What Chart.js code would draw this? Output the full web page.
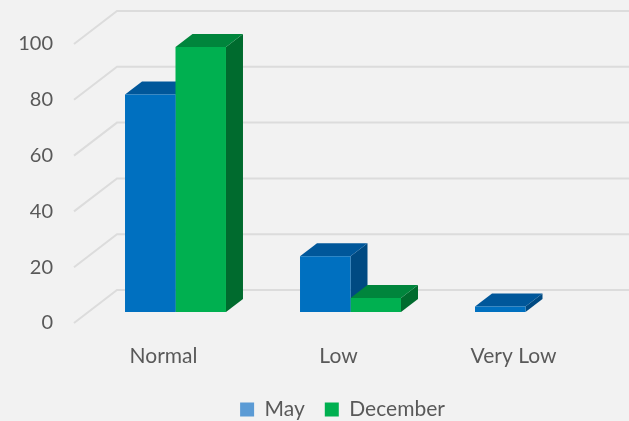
<!DOCTYPE html>
<html>
<head>
<meta charset="utf-8">
<style>
    html, body { margin: 0; padding: 0; background: #f2f2f2; overflow: hidden; }
    canvas { display: block; }
</style>
<script src="https://cdn.jsdelivr.net/npm/chart.js@4/dist/chart.umd.min.js"></script>
</head>
<body>
<canvas id="levelsChart" width="629" height="421"></canvas>
<script>
// Values
const categories = ['Normal', 'Low', 'Very Low'];
const mayValues = [78, 20, 2];
const decemberValues = [95, 5, null];

const FONT = { family: 'Lato, "Open Sans", sans-serif', size: 21 };
const TICK_FONT = { family: 'Lato, "Open Sans", sans-serif', size: 20 };
const TEXT_COLOR = '#595959';

// front, top and side colours of each series
const faceColors = [
    { front: '#0070c0', top: '#00579a', side: '#004a82' },
    { front: '#00b050', top: '#00853c', side: '#006b2e' }
];
const legendColors = ['#5b9bd5', '#00b050'];

// 3D look: how far the box goes back, and how far the floor runs
const DEPTH_X = 17, DEPTH_Y = 13;

function fillFace(ctx, points, color) {
    ctx.fillStyle = color;
    ctx.beginPath();
    points.forEach((p, i) => i ? ctx.lineTo(p[0], p[1]) : ctx.moveTo(p[0], p[1]));
    ctx.closePath();
    ctx.fill();
}

// Draws the walls and the top and side of the boxes; the library paints the fronts over them
const depthPlugin = {
    id: 'depth',
    afterLayout(chart) {
        // legend padding is also its horizontal gap, so shift the box to suit
        const legend = chart.legend;
        legend.left = 72;
        legend.top -= 14;
        legend.height += 14;
        legend.bottom = legend.top + legend.height;
    },
    beforeDatasetsDraw(chart) {
        const ctx = chart.ctx;
        const y = chart.scales.y;
        const left = chart.chartArea.left;

        ctx.save();
        ctx.strokeStyle = '#dcdcdc';
        ctx.lineWidth = 2;
        y.ticks.forEach(tick => {
            const py = y.getPixelForValue(tick.value);
            ctx.beginPath();
            ctx.moveTo(left - 14, py + 11);
            ctx.lineTo(left + 29, py - 22);
            ctx.lineTo(chart.width, py - 22);
            ctx.stroke();
        });

        chart.data.datasets.forEach((ds, i) => {
            chart.getDatasetMeta(i).data.forEach((bar, j) => {
                if (ds.data[j] === null) return;
                const x0 = bar.x - bar.width / 2, x1 = bar.x + bar.width / 2;
                fillFace(ctx, [[x1, bar.y], [x1 + DEPTH_X, bar.y - DEPTH_Y],
                    [x1 + DEPTH_X, bar.base - DEPTH_Y], [x1, bar.base]], faceColors[i].side);
                fillFace(ctx, [[x0, bar.y], [x0 + DEPTH_X, bar.y - DEPTH_Y],
                    [x1 + DEPTH_X, bar.y - DEPTH_Y], [x1, bar.y]], faceColors[i].top);
            });
        });
        ctx.restore();
    }
};

new Chart(document.getElementById('levelsChart'), {
    type: 'bar',
    data: {
        labels: categories,
        datasets: [
            { label: 'May', data: mayValues, backgroundColor: faceColors[0].front, borderWidth: 0 },
            { label: 'December', data: decemberValues, backgroundColor: faceColors[1].front, borderWidth: 0 }
        ]
    },
    options: {
        responsive: false,
        animation: false,
        layout: { padding: { top: 33, right: 16, bottom: 0, left: 0 } },
        datasets: { bar: { categoryPercentage: 0.577, barPercentage: 1 } },
        plugins: {
            tooltip: { enabled: false },
            legend: {
                position: 'bottom',
                maxHeight: 28,
                labels: {
                    font: FONT,
                    color: TEXT_COLOR,
                    boxWidth: 14,
                    boxHeight: 14,
                    padding: 20,
                    generateLabels(chart) {
                        const items = Chart.defaults.plugins.legend.labels.generateLabels(chart);
                        items.forEach((item, i) => {
                            item.fillStyle = legendColors[i];
                            item.lineWidth = 0;
                        });
                        return items;
                    }
                }
            }
        },
        scales: {
            x: {
                grid: { display: false, drawTicks: false },
                border: { display: false },
                ticks: { font: FONT, color: TEXT_COLOR, padding: 32, labelOffset: -12, maxRotation: 0 },
                afterFit(scale) { scale.height = 81; }
            },
            y: {
                min: 0,
                max: 100,
                grid: { display: false, drawTicks: false },
                border: { display: false },
                ticks: { stepSize: 20, font: TICK_FONT, color: TEXT_COLOR, padding: 35, labelOffset: 11 },
                afterFit(scale) {
                    scale.width = 88;
                    // tick padding would otherwise push the plot top down
                    scale.paddingTop = 0;
                    scale.paddingBottom = 0;
                }
            }
        }
    },
    plugins: [depthPlugin]
});
</script>
</body>
</html>
